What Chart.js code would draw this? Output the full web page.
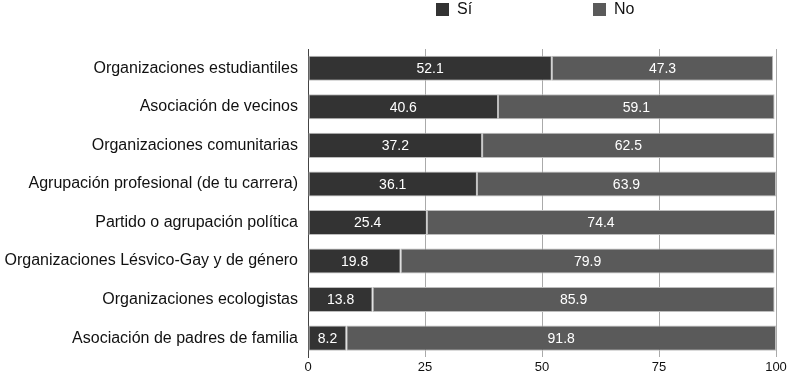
<!DOCTYPE html>
<html>
<head>
<meta charset="utf-8">
<script src="https://cdn.jsdelivr.net/npm/chart.js@4"></script>
<style>
  html, body { margin: 0; padding: 0; background: #fff; }
  #wrap { width: 791px; height: 377px; }
</style>
</head>
<body>
<div id="wrap"><canvas id="chart"></canvas></div>
<script>
// Datos
const categorias = [
    'Organizaciones estudiantiles',
    'Asociación de vecinos',
    'Organizaciones comunitarias',
    'Agrupación profesional (de tu carrera)',
    'Partido o agrupación política',
    'Organizaciones Lésvico-Gay y de género',
    'Organizaciones ecologistas',
    'Asociación de padres de familia'
];
const valoresSi = [52.1, 40.6, 37.2, 36.1, 25.4, 19.8, 13.8, 8.2];
const valoresNo = [47.3, 59.1, 62.5, 63.9, 74.4, 79.9, 85.9, 91.8];
const ticksX = [0, 25, 50, 75, 100];

const FUENTE = "'Liberation Sans', Arial, sans-serif";

// Etiquetas blancas dentro de cada segmento
const etiquetasPlugin = {
    id: 'etiquetas',
    afterDatasetsDraw(chart) {
        const ctx = chart.ctx;
        ctx.save();
        ctx.font = '14px ' + FUENTE;
        ctx.fillStyle = '#ffffff';
        ctx.textAlign = 'center';
        ctx.textBaseline = 'middle';
        chart.data.datasets.forEach((ds, i) => {
            chart.getDatasetMeta(i).data.forEach((bar, j) => {
                const p = bar.getProps(['x', 'y', 'base'], true);
                ctx.fillText(ds.data[j].toFixed(1), (p.x + p.base) / 2, p.y + 1);
            });
        });
        ctx.restore();
    }
};

// Leyenda dibujada a mano (las dos entradas quedan muy separadas)
const leyendaPlugin = {
    id: 'leyenda',
    afterDraw(chart) {
        const ctx = chart.ctx;
        const posiciones = [436, 593];
        ctx.save();
        ctx.font = '16px ' + FUENTE;
        ctx.textBaseline = 'middle';
        ctx.textAlign = 'left';
        chart.data.datasets.forEach((ds, i) => {
            const x = posiciones[i];
            ctx.fillStyle = ds.backgroundColor;
            ctx.fillRect(x, 3, 13, 13);
            ctx.fillStyle = '#111111';
            ctx.fillText(ds.label, x + 21, 10);
        });
        ctx.restore();
    }
};

new Chart(document.getElementById('chart'), {
    type: 'bar',
    data: {
        labels: categorias,
        datasets: [
            {
                label: 'Sí',
                data: valoresSi,
                backgroundColor: '#333333',
                borderColor: '#bdbdbd',
                borderWidth: 1,
                borderSkipped: false
            },
            {
                label: 'No',
                data: valoresNo,
                backgroundColor: '#5a5a5a',
                borderColor: '#bdbdbd',
                borderWidth: 1,
                borderSkipped: false
            }
        ]
    },
    options: {
        indexAxis: 'y',
        responsive: true,
        maintainAspectRatio: false,
        animation: false,
        devicePixelRatio: 1,
        barPercentage: 0.65,
        categoryPercentage: 1,
        layout: { padding: { left: 0, right: 15, top: 49, bottom: 0 } },
        plugins: {
            legend: { display: false },
            tooltip: { enabled: false }
        },
        scales: {
            x: {
                stacked: true,
                min: 0,
                max: 100,
                afterBuildTicks: axis => { axis.ticks = ticksX.map(v => ({ value: v })); },
                ticks: { font: { family: FUENTE, size: 13 }, color: '#111111', padding: 2 },
                grid: { color: '#aaaaaa', drawTicks: false },
                border: { display: false }
            },
            y: {
                stacked: true,
                afterFit: axis => { axis.width = 308; },
                ticks: { font: { family: FUENTE, size: 16 }, color: '#111111', padding: 2 },
                grid: { display: false },
                border: { color: '#444444', width: 1 }
            }
        }
    },
    plugins: [etiquetasPlugin, leyendaPlugin]
});
</script>
</body>
</html>
